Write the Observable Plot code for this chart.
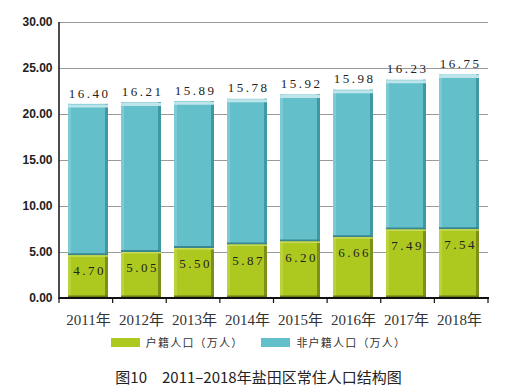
<!DOCTYPE html>
<html>
<head>
<meta charset="utf-8">
<script src="https://cdn.jsdelivr.net/npm/d3@7"></script>
<script src="https://cdn.jsdelivr.net/npm/@observablehq/plot@0.6"></script>
<style>
  html, body { margin: 0; padding: 0; background: #fff; }
  #wrap { width: 517px; }
  #wrap svg g[aria-label="text"] text { letter-spacing: 2.5px; }
  .legend { display: flex; justify-content: center; align-items: center; height: 14px; margin-top: 2px;
    font-family: "Noto Sans CJK SC", sans-serif; font-size: 11px; color: #333; letter-spacing: 1.2px; }
  .legend .item { display: flex; align-items: center; margin: 0 9px; }
  .legend .sw { width: 29px; height: 9px; margin-right: 6px; }
  .caption { text-align: center; font-family: "Noto Sans CJK SC", sans-serif; font-size: 15px; color: #222;
    margin-top: 19px; line-height: 18px; }
</style>
</head>
<body>
<div id="wrap"></div>
<script>
const years = ["2011年","2012年","2013年","2014年","2015年","2016年","2017年","2018年"];
const seriesNames = ["户籍人口（万人）", "非户籍人口（万人）"];
const huji = [4.70, 5.05, 5.50, 5.87, 6.20, 6.66, 7.49, 7.54];
const feihuji = [16.40, 16.21, 15.89, 15.78, 15.92, 15.98, 16.23, 16.75];
const yTicks = [0, 5, 10, 15, 20, 25, 30];

const green = "#adc91f", greenDark = "#7f901a", greenBottom = "#6c7a16";
const cyan = "#63c0cb", cyanDark = "#3f98a2", cyanTop = "#bfe5ea", cyanBottom = "#3b8790";

const rows = [];
years.forEach((yr, i) => {
  rows.push({year: yr, series: seriesNames[0], value: huji[i], y1: 0, y2: huji[i]});
  rows.push({year: yr, series: seriesNames[1], value: feihuji[i], y1: huji[i], y2: huji[i] + feihuji[i]});
});
const hujiRows = rows.filter(d => d.series === seriesNames[0]);
const feiRows = rows.filter(d => d.series === seriesNames[1]);

function decor(index, scales, values, dims) {
  const left = dims.marginLeft, right = dims.width - dims.marginRight;
  const top = dims.marginTop, bottom = dims.height - dims.marginBottom;
  const step = (right - left) / years.length;
  const g = d3.create("svg:g");
  g.append("line").attr("x1", left).attr("x2", left).attr("y1", top).attr("y2", bottom + 1)
    .attr("stroke", "#111").attr("stroke-width", 1.5);
  g.append("line").attr("x1", left).attr("x2", right + 1).attr("y1", bottom).attr("y2", bottom)
    .attr("stroke", "#111").attr("stroke-width", 2);
  for (let i = 0; i <= years.length; i++) {
    const x = left + i * step;
    g.append("line").attr("x1", x).attr("x2", x).attr("y1", bottom).attr("y2", bottom + 5)
      .attr("stroke", "#111").attr("stroke-width", 1.2);
  }
  return g.node();
}

const chart = Plot.plot({
  width: 517,
  height: 333,
  marginTop: 22,
  marginBottom: 35,
  marginLeft: 59,
  marginRight: 29,
  x: {domain: years, paddingInner: 0.25, paddingOuter: 0.125, label: null},
  y: {domain: [0, 30], label: null},
  marks: [
    Plot.gridY(yTicks, {stroke: "#9a9a9a", strokeOpacity: 1, strokeWidth: 1}),
    Plot.axisY(yTicks, {tickFormat: d => d.toFixed(2), tickSize: 0, tickPadding: 7,
      fontSize: 12, fontWeight: "bold", fontFamily: "Liberation Sans, Arial, sans-serif", fill: "#222"}),
    Plot.axisX({tickSize: 0, tickPadding: 16, fontSize: 15, fontFamily: "Liberation Serif, Noto Sans CJK SC, serif", fill: "#333"}),
    // main bars
    Plot.rectY(rows, {x: "year", y1: "y1", y2: "y2", fill: d => d.series === seriesNames[0] ? green : cyan}),
    // lighter left edge
    Plot.rectY(rows, {x: "year", y1: "y1", y2: "y2", insetRight: 37,
      fill: d => d.series === seriesNames[0] ? "#b9d33a" : "#7ccad4"}),
    // darker right edge
    Plot.rectY(rows, {x: "year", y1: "y1", y2: "y2", insetLeft: 37,
      fill: d => d.series === seriesNames[0] ? greenDark : cyanDark}),
    // top highlight of cyan
    Plot.tickY(feiRows, {x: "year", y: "y2", stroke: cyanTop, strokeWidth: 3, dy: 1.5}),
    // dark band at bottom of cyan
    Plot.tickY(feiRows, {x: "year", y: "y1", stroke: cyanBottom, strokeWidth: 2, dy: -1}),
    // light band at top of green
    Plot.tickY(hujiRows, {x: "year", y: "y2", stroke: "#c9dc5a", strokeWidth: 1.5, dy: 0.75}),
    // dark bottom of green
    Plot.tickY(hujiRows, {x: "year", y: "y1", stroke: greenBottom, strokeWidth: 2, dy: -2}),
    decor,
    // labels
    Plot.text(feiRows, {x: "year", y: "y2", text: d => d.value.toFixed(2), dy: -11, dx: 1,
      fontSize: 13, fontFamily: "Liberation Serif, serif", fill: "#222"}),
    Plot.text(hujiRows, {x: "year", y: "y2", text: d => d.value.toFixed(2), dy: 16, dx: 1,
      fontSize: 13, fontFamily: "Liberation Serif, serif", fill: "#222"})
  ]
});

const wrap = document.getElementById("wrap");
wrap.appendChild(chart);

const legend = document.createElement("div");
legend.className = "legend";
[[seriesNames[0], green], [seriesNames[1], cyan]].forEach(([name, color]) => {
  const it = document.createElement("div");
  it.className = "item";
  const sw = document.createElement("span");
  sw.className = "sw";
  sw.style.background = color;
  const t = document.createElement("span");
  t.textContent = name;
  it.appendChild(sw); it.appendChild(t);
  legend.appendChild(it);
});
wrap.appendChild(legend);

const cap = document.createElement("div");
cap.className = "caption";
cap.textContent = "图10　2011–2018年盐田区常住人口结构图";
wrap.appendChild(cap);
</script>
</body>
</html>
